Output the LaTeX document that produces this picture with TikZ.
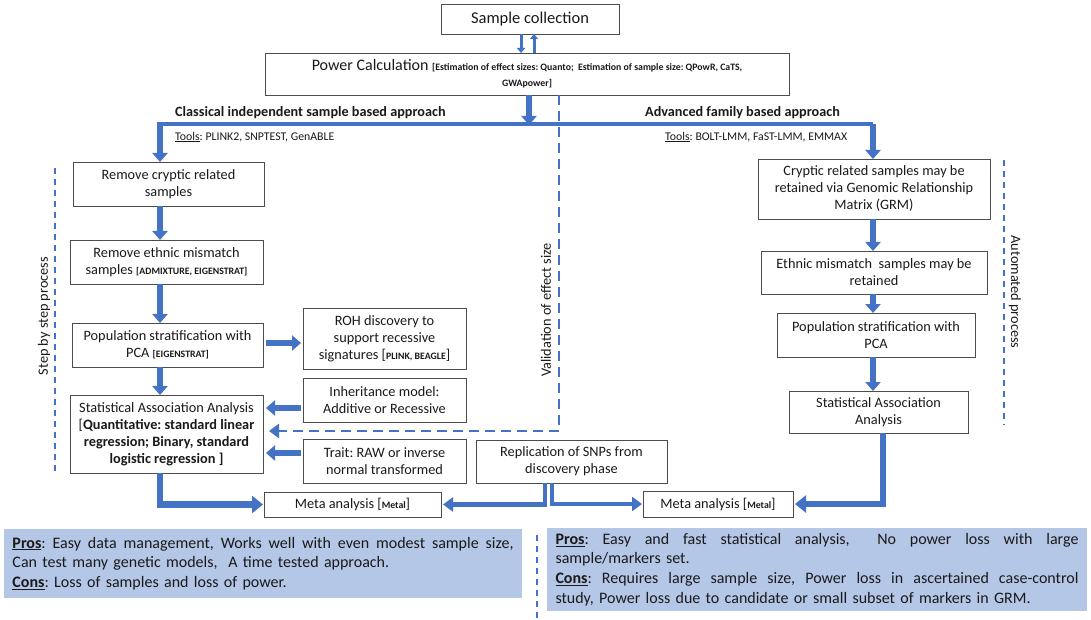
\documentclass[tikz,border=0pt]{standalone}
\usepackage{fontspec}
\setmainfont{Carlito}
\usetikzlibrary{arrows.meta}
\definecolor{ablue}{HTML}{4472C4}
\definecolor{prosfill}{HTML}{B4C7E7}
\definecolor{txt}{HTML}{1A1A1A}
\newcommand{\bx}[6]{\node[box,minimum width={(#4-#2)*1pt},minimum height={(#5-#3)*1pt}] (#1) at ({(#2+#4)/2},{(#3+#5)/2}) {#6};}
\newcommand{\sm}[1]{{\fontsize{9.8}{11}\selectfont\bfseries #1}}
\newcommand{\jline}[2]{\hbox to #1{\spaceskip=0pt\xspaceskip=0pt #2}}
\begin{document}
\frenchspacing
\begin{tikzpicture}[x=1pt,y=-1pt,
  box/.style={draw=black!70, line width=0.9pt, fill=white, align=center, inner sep=1pt, outer sep=0pt, text=txt, font=\fontsize{14.3}{17}\selectfont},
  fat/.style={draw=ablue, line width=6pt, -{Triangle[width=15pt,length=9pt]}},
  fatL/.style={draw=ablue, line width=6.5pt, line join=miter, -{Triangle[width=17pt,length=11pt]}},
  repL/.style={draw=ablue, line width=4.5pt, line join=miter, -{Triangle[width=14pt,length=10pt]}},
  bar/.style={draw=ablue, line width=3.5pt},
  smallarr/.style={draw=ablue, line width=3pt, -{Triangle[width=8pt,length=5pt]}},
  thindash/.style={draw=ablue, line width=1.4pt, dash pattern=on 6pt off 5pt},
  valdash/.style={draw=ablue, line width=2.5pt, dash pattern=on 10pt off 6pt, -{Triangle[width=14pt,length=10pt]}},
  lbl/.style={text=txt, inner sep=0pt, font=\fontsize{14.3}{16}\selectfont},
  ttl/.style={text=txt, anchor=west, inner sep=0pt, font=\bfseries\fontsize{14.2}{16}\selectfont},
  tool/.style={text=txt, anchor=west, inner sep=0pt, font=\fontsize{11.8}{13}\selectfont},
  prosbox/.style={fill=prosfill, draw=none, align=left, inner sep=0pt, text=txt, font=\fontsize{16}{19.7}\selectfont\frenchspacing}
]
\useasboundingbox (0,0) rectangle (1091,620);
\fill[white] (0,0) rectangle (1091,620);

% helper coordinates
\coordinate (X160) at (160,0);
\coordinate (X521) at (521,0);
\coordinate (X534) at (534,0);
\coordinate (X529) at (529,0);
\coordinate (X559) at (559,0);
\coordinate (X545) at (545,0);
\coordinate (X552) at (552,0);
\coordinate (X873) at (873,0);
\coordinate (X883) at (883,0);
\coordinate (Y343) at (0,343);
\coordinate (Y408) at (0,408);
\coordinate (Y431) at (0,431);
\coordinate (Y453) at (0,453);
\coordinate (barL) at (157,124);
\coordinate (barR) at (873,124);

% boxes
\bx{sample}{441}{4}{619}{34}{\fontsize{16.5}{18}\selectfont Sample collection}
\node[box, font=\fontsize{16}{17}\selectfont, minimum width=524pt, minimum height=42pt] (power) at (527,74)
  {Power Calculation \sm{[Estimation of effect sizes: Quanto;\ \ Estimation of sample size: QPowR, CaTS,}\\[-1pt]\sm{GWApower]}};

\bx{rc}{73}{162}{264}{206}{Remove cryptic related\\samples}
\bx{re}{70}{240}{263}{284}{Remove ethnic mismatch\\samples \sm{[ADMIXTURE, EIGENSTRAT]}}
\bx{ps}{72}{323}{263}{367}{Population stratification with\\PCA \sm{[EIGENSTRAT]}}
\bx{sa}{70}{395}{263}{473}{Statistical Association Analysis\\{}[\textbf{Quantitative: standard linear}\\\textbf{regression; Binary, standard}\\\textbf{logistic regression ]}}
\bx{roh}{303}{308}{466}{369}{ROH discovery to\\support recessive\\signatures [\sm{PLINK, BEAGLE}]}
\bx{inh}{303}{378}{466}{422}{Inheritance model:\\Additive or Recessive}
\bx{trait}{303}{439}{466}{483}{Trait: RAW or inverse\\normal transformed}
\bx{rep}{476}{440}{667}{483}{Replication of SNPs from\\discovery phase}
\bx{metaL}{264}{492}{441}{517}{Meta analysis [\sm{Metal}]}
\bx{metaR}{643}{491}{793}{517}{Meta analysis [\sm{Metal}]}

\bx{crg}{758}{159}{990}{219}{Cryptic related samples may be\\retained via Genomic Relationship\\Matrix (GRM)}
\bx{rem}{761}{251}{987}{294}{Ethnic mismatch\ \ samples may be\\retained}
\bx{rps}{777}{313}{975}{357}{Population stratification with\\PCA}
\bx{rsa}{789}{391}{968}{433}{Statistical Association\\Analysis}

% titles and tools
\node[ttl] (ttlL) at (175,113) {Classical independent sample based approach};
\node[ttl] (ttlR) at (645,113) {Advanced family based approach};
\node[tool] (toolL) at (175,137) {\underline{Tools}: PLINK2, SNPTEST, GenABLE};
\node[tool] (toolR) at (665,137) {\underline{Tools}: BOLT-LMM,\ FaST-LMM,\ EMMAX};

% side labels and dashed guides
\coordinate (sdT) at (55,168); \coordinate (sdB) at (55,472);
\draw[thindash] (sdT) -- (sdB);
\node[lbl, rotate=90] (steplbl) at (44,316) {Step by step process};
\coordinate (adT) at (1004,160); \coordinate (adB) at (1004,425);
\draw[thindash] (adT) -- (adB);
\node[lbl, rotate=-90] (autolbl) at (1015,292) {Automated process};
\coordinate (bdT) at (537,535); \coordinate (bdB) at (537,620);
\draw[thindash] (bdT) -- (bdB);
\node[lbl, rotate=90] (vallbl) at (546,310) {Validation of effect size};

% validation dashed arrow
\draw[valdash] (power.south -| X559) -- (X559 |- Y431) -- ([xshift=6pt]sa.east |- Y431);

% top arrows
\draw[smallarr] (sample.south -| X521) -- (power.north -| X521);
\draw[smallarr] (power.north -| X534) -- (sample.south -| X534);
\draw[bar] (barL) -- (barR);
\draw[fat] (power.south -| X529) -- ([yshift=-1pt]X529 |- barL);
\draw[fat] (X160 |- barL) -- (rc.north -| X160);
\draw[fat] (barR) -- (crg.north -| barR);

% left column
\draw[fat] (rc.south -| X160) -- (re.north -| X160);
\draw[fat] (re.south -| X160) -- (ps.north -| X160);
\draw[fat] (ps.south -| X160) -- (sa.north -| X160);
\draw[fat, shorten <=3pt, shorten >=2pt] (ps.east |- Y343) -- (roh.west |- Y343);
\draw[fat, shorten <=2pt, shorten >=3pt] (inh.west |- Y408) -- (sa.east |- Y408);
\draw[fat, shorten <=2pt, shorten >=3pt] (trait.west |- Y453) -- (sa.east |- Y453);
\draw[fatL] (sa.south -| X160) |- ([xshift=-1pt]metaL.west);

% replication
\draw[repL] (rep.south -| X545) |- ([xshift=2pt]metaL.east);
\draw[repL] (rep.south -| X552) |- ([xshift=-1pt]metaR.west);

% right column
\draw[fat] (crg.south -| X873) -- (rem.north -| X873);
\draw[fat] (rem.south -| X873) -- (rps.north -| X873);
\draw[fat] (rps.south -| X873) -- (rsa.north -| X873);
\draw[fatL] (rsa.south -| X883) |- ([xshift=2pt]metaR.east);

% pros / cons
\node[prosbox, minimum width=518pt, minimum height=69pt, text width=501pt] (prosL) at (263,563.5)
 {\jline{501pt}{\underline{\textbf{Pros}}: Easy data management, Works well with even modest sample size,}
  Can test many genetic models,\ \ A time tested approach.\\
  \underline{\textbf{Cons}}: Loss of samples and loss of power.};
\node[prosbox, minimum width=540pt, minimum height=83pt, text width=523pt] (prosR) at (817,569.5)
 {\jline{523pt}{\underline{\textbf{Pros}}: Easy and fast statistical analysis,\ \ No power loss with large}
  sample/markers set.\\
  \jline{523pt}{\underline{\textbf{Cons}}: Requires large sample size, Power loss in ascertained case-control}
  study, Power loss due to candidate or small subset of markers in GRM.};
\end{tikzpicture}
\end{document}
